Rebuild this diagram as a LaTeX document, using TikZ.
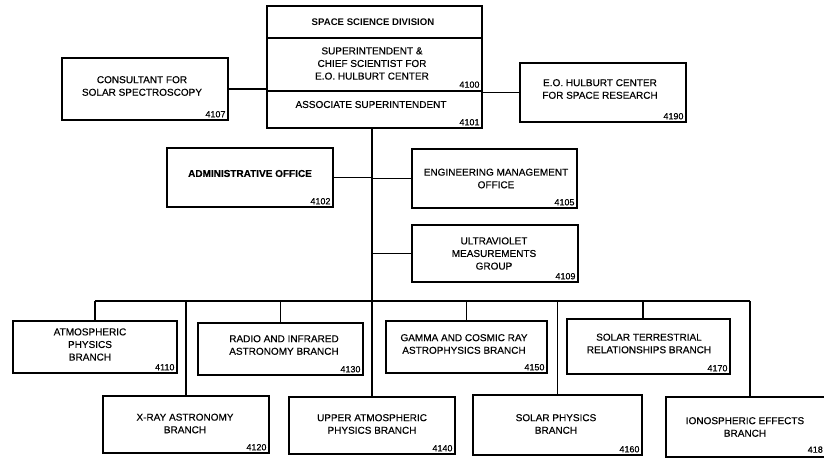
\documentclass[tikz,border=0pt]{standalone}
\usepackage{fontspec}
\setmainfont{Liberation Sans}
\newfontfamily\heavysans[FakeBold=0.35]{Liberation Sans}
\begin{document}
\begin{tikzpicture}[x=1pt,y=-1pt,
  box/.style={draw, line width=1.3pt, inner sep=0pt, rectangle},
  lbl/.style={inner sep=0pt, align=center, font=\heavysans\fontsize{10}{12.6}\selectfont},
  num/.style={inner sep=0pt, anchor=south east, font=\heavysans\fontsize{9}{10}\selectfont},
  conn/.style={line width=1.3pt}]
\useasboundingbox (0,0) rectangle (824,458);
\newcommand\orgbox[9]{%
  \node[box, minimum width={(#4-#2)*1pt}, minimum height={(#5-#3)*1pt}] (#1) at ({(#2+#4)/2},{(#3+#5)/2}) {};
  \node[lbl] (#1-t) at (#6,#7) {#8};
  \node[num] (#1-n) at ([xshift=-3pt,yshift=3pt]#1.south east) {#9};
}
% top box
\node[box, minimum width=215pt, minimum height=122pt] (top) at (374.5,67) {};
\coordinate (d1) at (0,38);
\coordinate (d2) at (0,91);
\draw[conn] (top.west |- d1) -- (top.east |- d1);
\draw[conn] (top.west |- d2) -- (top.east |- d2);
\node[lbl, font=\bfseries\fontsize{9.6}{12.6}\selectfont] (ssd) at (373,22.5) {SPACE SCIENCE DIVISION};
\node[lbl] (sup) at (372,63.5) {SUPERINTENDENT \&\\CHIEF SCIENTIST FOR\\E.O. HULBURT CENTER};
\node[num] (n4100) at ([xshift=-3pt,yshift=3pt]top.east |- d2) {4100};
\node[lbl] (assoc) at (371,104.5) {ASSOCIATE SUPERINTENDENT};
\node[num] (n4101) at ([xshift=-3pt,yshift=3pt]top.south east) {4101};

\orgbox{cons}{62}{58}{228}{120}{142}{86}{CONSULTANT FOR\\SOLAR SPECTROSCOPY}{4107}
\orgbox{eoh}{520}{63}{686}{122}{600}{89}{E.O. HULBURT CENTER\\FOR SPACE RESEARCH}{4190}
\orgbox{admin}{167}{148}{333}{207}{250}{173.5}{\bfseries ADMINISTRATIVE OFFICE}{4102}
\orgbox{eng}{412}{149}{577}{208}{496}{178.5}{ENGINEERING MANAGEMENT\\OFFICE}{4105}
\orgbox{uv}{412}{225}{578}{282}{494}{253.5}{ULTRAVIOLET\\MEASUREMENTS\\GROUP}{4109}
\orgbox{atmos}{13}{321}{177}{373}{90}{344.5}{ATMOSPHERIC\\PHYSICS\\BRANCH}{4110}
\orgbox{radio}{198}{323}{363}{375}{284}{345}{RADIO AND INFRARED\\ASTRONOMY BRANCH}{4130}
\orgbox{gamma}{386}{321}{547}{373}{464}{344}{GAMMA AND COSMIC RAY\\ASTROPHYSICS BRANCH}{4150}
\orgbox{sterr}{567}{319}{730}{374}{649}{343.5}{SOLAR TERRESTRIAL\\RELATIONSHIPS BRANCH}{4170}
\orgbox{xray}{103}{396}{269}{453}{185}{423.5}{X-RAY ASTRONOMY\\BRANCH}{4120}
\orgbox{upper}{289}{397}{455}{454}{372}{424}{UPPER ATMOSPHERIC\\PHYSICS BRANCH}{4140}
\orgbox{sphys}{473}{395}{642}{455}{556}{424}{SOLAR PHYSICS\\BRANCH}{4160}
\orgbox{iono}{666}{397}{834}{457}{745}{427}{IONOSPHERIC EFFECTS\\BRANCH}{}
\coordinate (ionum) at (823,453);
\node[num] (iono-n2) at (ionum) {418};

% connectors
\draw[conn] (cons.east) -- (cons.east -| top.west);
\draw[conn] (eoh.west) -- (eoh.west -| top.east);
\draw[conn] (top.south -| upper.north) -- (upper.north);
\draw[conn] (admin.east) -- (admin.east -| upper.north);
\draw[conn] (eng.west) -- (eng.west -| upper.north);
\draw[conn] (uv.west) -- (uv.west -| upper.north);
\coordinate (bus) at (0,301);
\draw[conn] (atmos.north |- bus) -- (iono.north |- bus);
\draw[conn] (atmos.north) -- (atmos.north |- bus);
\draw[conn] (xray.north) -- (xray.north |- bus);
\draw[conn] (radio.north) -- (radio.north |- bus);
\draw[conn] (gamma.north) -- (gamma.north |- bus);
\draw[conn] (sphys.north) -- (sphys.north |- bus);
\draw[conn] ([xshift=-5.5pt]sterr.north) -- ([xshift=-5.5pt]sterr.north |- bus);
\draw[conn] (iono.north) -- (iono.north |- bus);
\end{tikzpicture}
\end{document}
